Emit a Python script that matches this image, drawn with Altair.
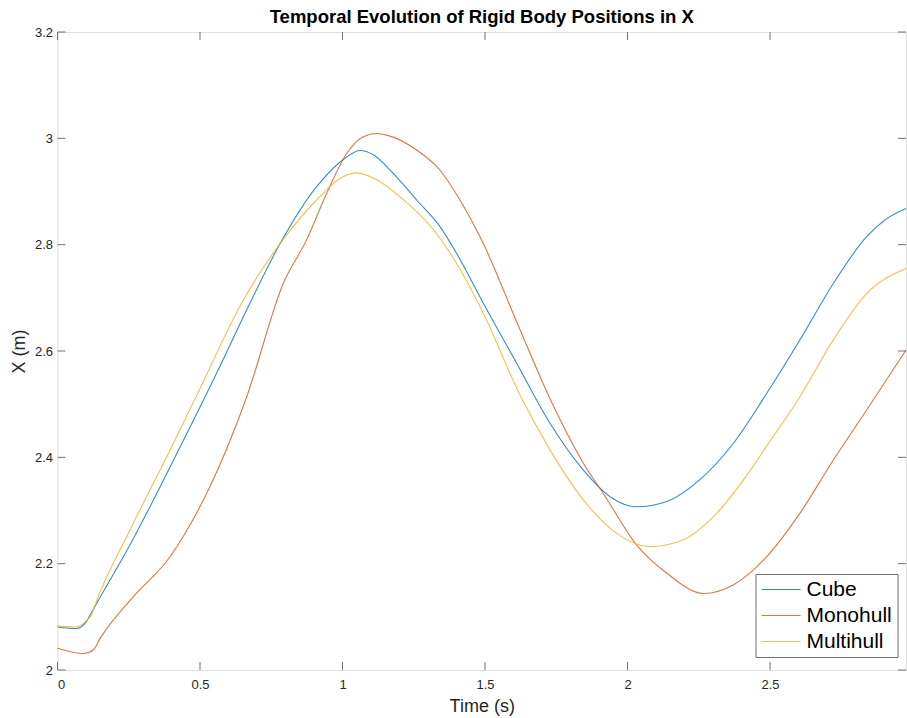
import altair as alt
import pandas as pd

# ---- data ----
cube_t = [0, 0.067, 0.10, 0.114, 0.137, 0.254, 0.395, 0.558, 0.675, 0.781, 0.909,
          1.015, 1.061, 1.108, 1.178, 1.26, 1.342, 1.40, 1.494, 1.611, 1.728, 1.845,
          1.939, 2.032, 2.138, 2.254, 2.371, 2.488, 2.605, 2.722, 2.839, 2.91, 2.977]
cube_x = [2.081, 2.078, 2.09, 2.103, 2.125, 2.235, 2.382, 2.558, 2.69, 2.802, 2.909,
          2.965, 2.977, 2.969, 2.934, 2.884, 2.834, 2.784, 2.69, 2.577, 2.464, 2.376,
          2.326, 2.307, 2.317, 2.358, 2.426, 2.52, 2.621, 2.727, 2.815, 2.849, 2.868]

mono_t = [0, 0.091, 0.126, 0.15, 0.266, 0.395, 0.441, 0.535, 0.664, 0.792, 0.874,
          0.945, 1.015, 1.073, 1.12, 1.155, 1.26, 1.342, 1.412, 1.494, 1.611, 1.728,
          1.845, 1.915, 2.032, 2.138, 2.266, 2.371, 2.488, 2.605, 2.722, 2.839, 2.977]
mono_x = [2.041, 2.031, 2.038, 2.06, 2.138, 2.213, 2.251, 2.345, 2.514, 2.727, 2.809,
          2.897, 2.972, 3.003, 3.009, 3.006, 2.978, 2.94, 2.884, 2.802, 2.655, 2.51,
          2.389, 2.332, 2.235, 2.182, 2.144, 2.16, 2.213, 2.295, 2.395, 2.489, 2.602]

multi_t = [0, 0.061, 0.10, 0.12, 0.137, 0.254, 0.395, 0.488, 0.652, 0.781, 0.909,
           1.003, 1.05, 1.12, 1.202, 1.319, 1.40, 1.494, 1.62, 1.728, 1.845, 1.962,
           2.079, 2.196, 2.313, 2.43, 2.488, 2.605, 2.722, 2.839, 2.977]
multi_x = [2.083, 2.081, 2.092, 2.105, 2.13, 2.263, 2.414, 2.516, 2.696, 2.802, 2.884,
           2.928, 2.935, 2.922, 2.89, 2.828, 2.765, 2.671, 2.52, 2.414, 2.32, 2.257,
           2.232, 2.245, 2.295, 2.375, 2.421, 2.514, 2.621, 2.708, 2.755]

series_names = ["Cube", "Monohull", "Multihull"]
series_colors = ["#0072BD", "#D95319", "#EDB120"]

x_ticks = [0, 0.5, 1, 1.5, 2, 2.5]
y_ticks = [2, 2.2, 2.4, 2.6, 2.8, 3, 3.2]

rows = []
for name, ts, xs in zip(series_names, [cube_t, mono_t, multi_t], [cube_x, mono_x, multi_x]):
    for t, v in zip(ts, xs):
        rows.append({"Time": t, "X": v, "Body": name})
df = pd.DataFrame(rows)

W, H = 848.5, 638
FONT = "Liberation Sans"
AX = "#707070"

xscale = alt.Scale(domain=[0, 2.977], nice=False, zero=False)
yscale = alt.Scale(domain=[2, 3.2], nice=False, zero=False)

lines = alt.Chart(df).mark_line(strokeWidth=1.1, strokeOpacity=0.8, interpolate="monotone").encode(
    x=alt.X("Time:Q", scale=xscale,
            axis=alt.Axis(title="Time (s)", values=x_ticks, format="~g", tickSize=0,
                          domain=False, grid=False, labelPadding=8, titlePadding=6,
                          labelFontSize=13, titleFontSize=18, labelColor="#262626",
                          titleColor="#262626", labelFont=FONT, titleFont=FONT,
                          titleFontWeight="normal")),
    y=alt.Y("X:Q", scale=yscale,
            axis=alt.Axis(title="X (m)", values=y_ticks, format="~g", tickSize=0,
                          domain=False, grid=False, labelPadding=5, titlePadding=6,
                          labelFontSize=13, titleFontSize=18, labelColor="#262626",
                          titleColor="#262626", labelFont=FONT, titleFont=FONT,
                          titleFontWeight="normal")),
    color=alt.Color("Body:N", scale=alt.Scale(domain=series_names, range=series_colors),
                    legend=alt.Legend(title=None, orient="none", legendX=698, legendY=542,
                                      symbolType="M-2,0H2", symbolSize=380,
                                      symbolStrokeWidth=1.1, symbolOffset=10,
                                      symbolOpacity=0.8,
                                      labelFontSize=21, labelFont=FONT, labelColor="black",
                                      labelOffset=15, rowPadding=4, padding=5,
                                      strokeColor=AX, fillColor="white",
                                      labelLimit=300)),
)

xt = pd.DataFrame({"v": x_ticks})
yt = pd.DataFrame({"v": y_ticks})
TL = 8
tick_b = alt.Chart(xt).mark_rule(color=AX, strokeWidth=1).encode(
    x=alt.X("v:Q", scale=xscale), y=alt.value(H), y2=alt.value(H - TL))
tick_t = alt.Chart(xt).mark_rule(color=AX, strokeWidth=1).encode(
    x=alt.X("v:Q", scale=xscale), y=alt.value(0), y2=alt.value(TL))
tick_l = alt.Chart(yt).mark_rule(color=AX, strokeWidth=1).encode(
    y=alt.Y("v:Q", scale=yscale), x=alt.value(0), x2=alt.value(TL))
tick_r = alt.Chart(yt).mark_rule(color=AX, strokeWidth=1).encode(
    y=alt.Y("v:Q", scale=yscale), x=alt.value(W), x2=alt.value(W - TL))

chart = alt.layer(tick_b, tick_t, tick_l, tick_r, lines).properties(
    width=W, height=H,
    title=alt.TitleParams("Temporal Evolution of Rigid Body Positions in X",
                          font=FONT, fontSize=18.5, fontWeight="bold", color="black",
                          anchor="middle", offset=0),
    autosize=alt.AutoSizeParams(type="none"),
    padding={"left": 57.5, "top": 32, "right": 1, "bottom": 48},
).configure_view(stroke=AX, strokeWidth=1).configure(background="white")

chart.save("out.html", embed_options={"renderer": "svg", "actions": False})
